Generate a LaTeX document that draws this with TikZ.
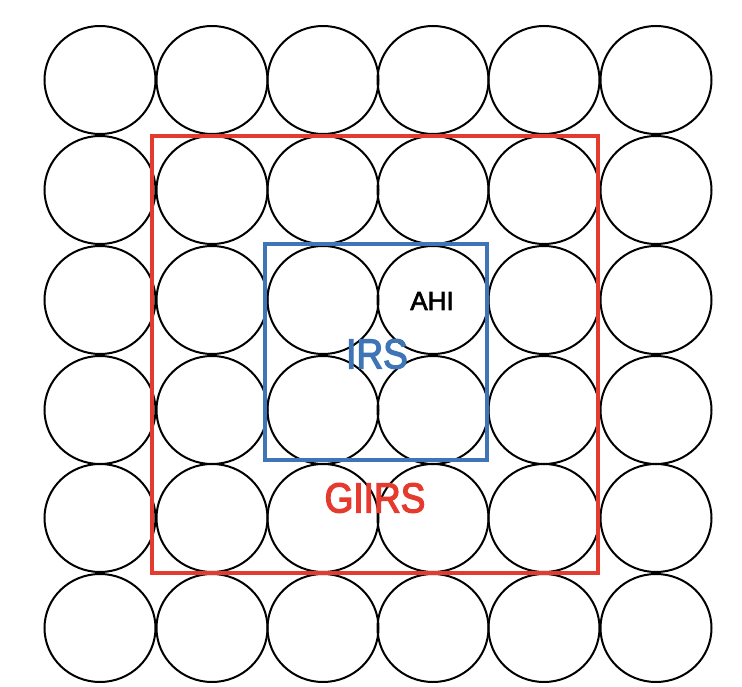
\documentclass[tikz,border=0pt]{standalone}
\usepackage{fontspec}
\setmainfont{Liberation Sans}
\newfontfamily\labelfont[FakeBold=3,FakeStretch=0.88]{Liberation Sans}
\newfontfamily\smallfont[FakeBold=2.5]{Liberation Sans}
\usetikzlibrary{shapes.geometric}
\definecolor{redbox}{HTML}{E53A2E}
\definecolor{bluebox}{HTML}{3F74B6}
\begin{document}
\begin{tikzpicture}[x=1pt,y=-1pt,
  cell/.style={draw=black,line width=2pt,ellipse,minimum width=111pt,minimum height=108pt,inner sep=0pt},
  frame/.style={line width=4pt},
  lbl/.style={inner sep=0pt,font=\labelfont\fontsize{42}{42}\selectfont}]
\useasboundingbox (0,0) rectangle (742,687);
\foreach \c/\x in {1/100,2/212,3/323,4/433,5/544,6/656}{
  \foreach \r/\y in {1/80,2/190,3/300,4/410,5/518,6/628}{
    \node[cell] (c\r\c) at (\x,\y) {};
  }
}
\draw[frame,draw=redbox] (152,136) rectangle (598,573);
\draw[frame,draw=bluebox,line width=3.5pt] (265,244) rectangle (487,460);
\node[inner sep=0pt,font=\smallfont\fontsize{26}{26}\selectfont] (ahi) at (432,301) {AHI};
\node[lbl,text=bluebox] (irs) at (377,354) {IRS};
\node[lbl,text=redbox] (giirs) at (375,498) {GIIRS};
\end{tikzpicture}
\end{document}
